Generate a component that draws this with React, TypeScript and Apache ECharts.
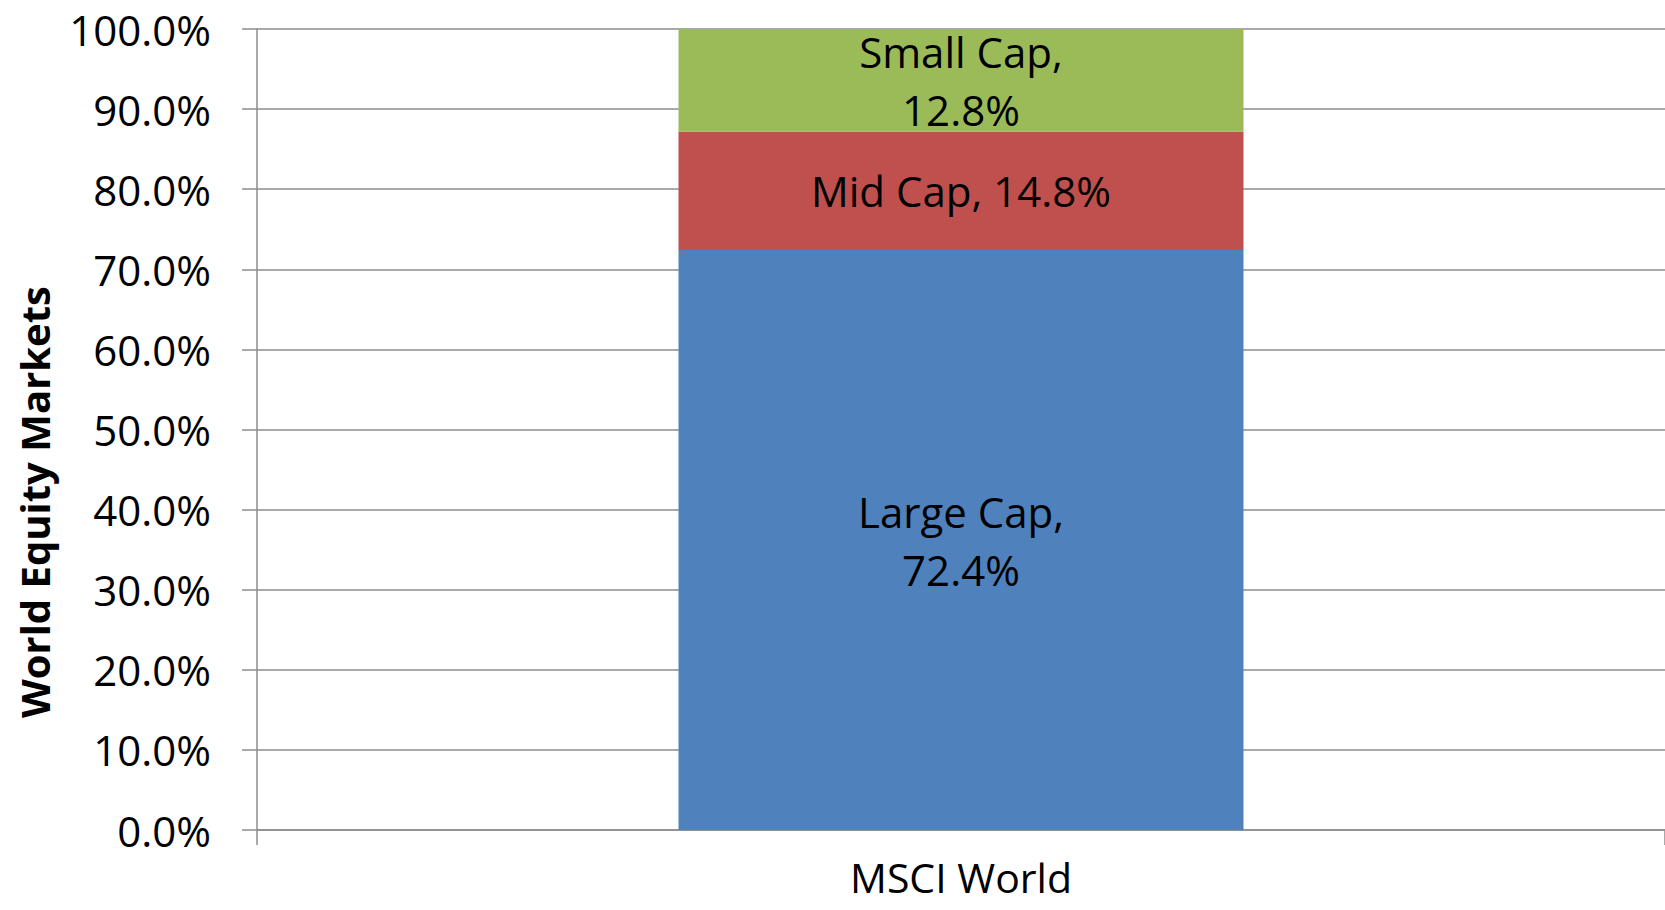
import React, { useEffect, useRef } from "react";
import * as echarts from "echarts";

const categories = ["MSCI World"];
const seriesNames = ["Large Cap", "Mid Cap", "Small Cap"];
const seriesValues = [[72.4], [14.8], [12.8]];
const seriesColors = ["#4F81BD", "#C0504D", "#9BBB59"];
const labelSeparators = [",\n", ", ", ",\n"];
const yAxisTitle = "World Equity Markets";

const FONT = "'Open Sans', sans-serif";
const GRID = "#8c8c8c";

export default function App() {
  const ref = useRef<HTMLDivElement>(null);
  useEffect(() => {
    if (!ref.current) return;
    const chart = echarts.init(ref.current, undefined, { renderer: "svg" });
    chart.setOption({
      animation: false,
      backgroundColor: "#ffffff",
      textStyle: { fontFamily: FONT },
      grid: { left: 257, right: 0, top: 29, bottom: 80, containLabel: false },
      xAxis: {
        type: "category",
        data: categories,
        axisLine: { show: true, lineStyle: { color: GRID, width: 1.5 } },
        axisTick: { show: true, length: 15, alignWithLabel: false, lineStyle: { color: GRID, width: 1.5 } },
        axisLabel: { color: "#000", fontSize: 41, lineHeight: 36, fontFamily: FONT, margin: 29 },
      },
      yAxis: {
        type: "value",
        min: 0,
        max: 100,
        interval: 10,
        axisLine: { show: true, lineStyle: { color: GRID, width: 1.5 } },
        axisTick: { show: true, length: 15, lineStyle: { color: GRID, width: 1.5 } },
        splitLine: { show: true, lineStyle: { color: GRID, width: 1.5 } },
        axisLabel: {
          color: "#000",
          fontSize: 42,
          fontFamily: FONT,
          margin: 46,
          formatter: (v: number) => v.toFixed(1) + "%",
        },
      },
      graphic: [
        {
          type: "text",
          x: 34,
          y: 502,
          rotation: Math.PI / 2,
          style: {
            text: yAxisTitle,
            fontFamily: FONT,
            fontWeight: "bold",
            fontSize: 40,
            fill: "#000",
            align: "center",
            verticalAlign: "middle",
          },
        },
      ],
      series: seriesNames.map((name, i) => ({
        name,
        type: "bar",
        stack: "total",
        data: seriesValues[i],
        barWidth: 565,
        itemStyle: { color: seriesColors[i] },
        label: {
          show: true,
          position: "inside",
          color: "#000",
          fontSize: 42,
          fontFamily: FONT,
          lineHeight: 58,
          formatter: (p: any) => `${name}${labelSeparators[i]}${Number(p.value).toFixed(1)}%`,
        },
      })),
    });
    return () => chart.dispose();
  }, []);
  return (
    <div
      ref={ref}
      style={{ position: "fixed", left: 0, top: 0, width: 1665, height: 910 }}
    />
  );
}
